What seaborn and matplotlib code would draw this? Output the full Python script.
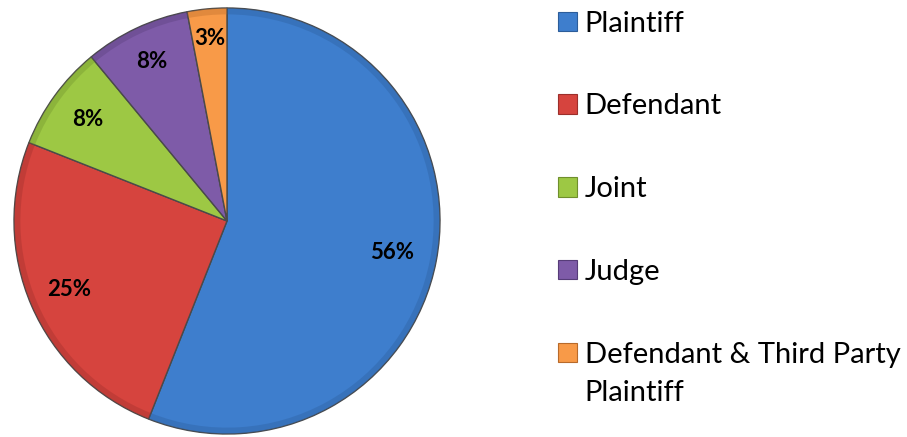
import matplotlib
matplotlib.use("Agg")
import matplotlib.pyplot as plt
from matplotlib.patches import Patch, Wedge
import numpy as np
import seaborn as sns

categories = ["Plaintiff", "Defendant", "Joint", "Judge",
              "Defendant & Third Party\nPlaintiff"]
shares = [56, 25, 8, 8, 3]
pct_labels = ["56%", "25%", "8%", "8%", "3%"]

sns.set_theme(style="white")
plt.rcParams["font.family"] = ["Lato", "DejaVu Sans"]

colors = sns.color_palette(["#3e7ecd", "#d6443e", "#9dc844", "#7e5ba8", "#f89a48"])
edges = sns.color_palette(["#2c5d9a", "#9c2f2b", "#6f8f2c", "#563c78", "#b86a2a"])

W, H = 907, 437
fig = plt.figure(figsize=(W / 100, H / 100), dpi=100)
ax = fig.add_axes([14 / W, 3 / H, 426 / W, 426 / H])

wedges, _ = ax.pie(shares, colors=colors, startangle=90, counterclock=False,
                   radius=1.0, wedgeprops=dict(linewidth=1.0, edgecolor="#4a4a4a"))
for w in wedges:
    w.set_clip_on(False)

# darker rim on each wedge for a slightly bevelled look
start = 90.0
total = sum(shares)
for val, ec in zip(shares, edges):
    sweep = 360.0 * val / total
    rim = Wedge((0, 0), 1.0, start - sweep, start, width=0.03,
                facecolor=ec, alpha=0.35, edgecolor="none", clip_on=False)
    ax.add_patch(rim)
    start -= sweep

# percentage labels placed along each wedge's bisector
dists = [0.79, 0.81, 0.81, 0.83, 0.86]
start = 90.0
for val, lab, d in zip(shares, pct_labels, dists):
    sweep = 360.0 * val / total
    mid = np.deg2rad(start - sweep / 2)
    ax.text(d * np.cos(mid), d * np.sin(mid), lab, ha="center", va="center",
            fontsize=16, fontweight="bold", color="black")
    start -= sweep

ax.set_xlim(-1, 1)
ax.set_ylim(-1, 1)
ax.set_aspect("equal")
ax.axis("off")

# legend: first line of each label sits beside its swatch,
# any continuation line is written underneath
first_lines = [c.split("\n")[0] for c in categories]
handles = [Patch(facecolor=c, edgecolor=e, linewidth=0.8) for c, e in zip(colors, edges)]
leg = fig.legend(handles, first_lines, loc="upper left",
                 bbox_to_anchor=(546 / W, 1 + 1 / H), frameon=False,
                 fontsize=21, labelcolor="black", handlelength=0.66,
                 handleheight=0.66, handletextpad=0.27, labelspacing=1.945,
                 borderaxespad=0)

fig.canvas.draw()
renderer = fig.canvas.get_renderer()
for cat, txt in zip(categories, leg.get_texts()):
    extra = cat.split("\n")[1:]
    if not extra:
        continue
    bb = txt.get_window_extent(renderer)
    for i, line in enumerate(extra, start=1):
        fig.text(bb.x0 / W, (bb.y0 - 38 * i) / H, line, fontsize=21,
                 color="black", ha="left", va="bottom")

fig.savefig("out.png", dpi=100, facecolor="white")
